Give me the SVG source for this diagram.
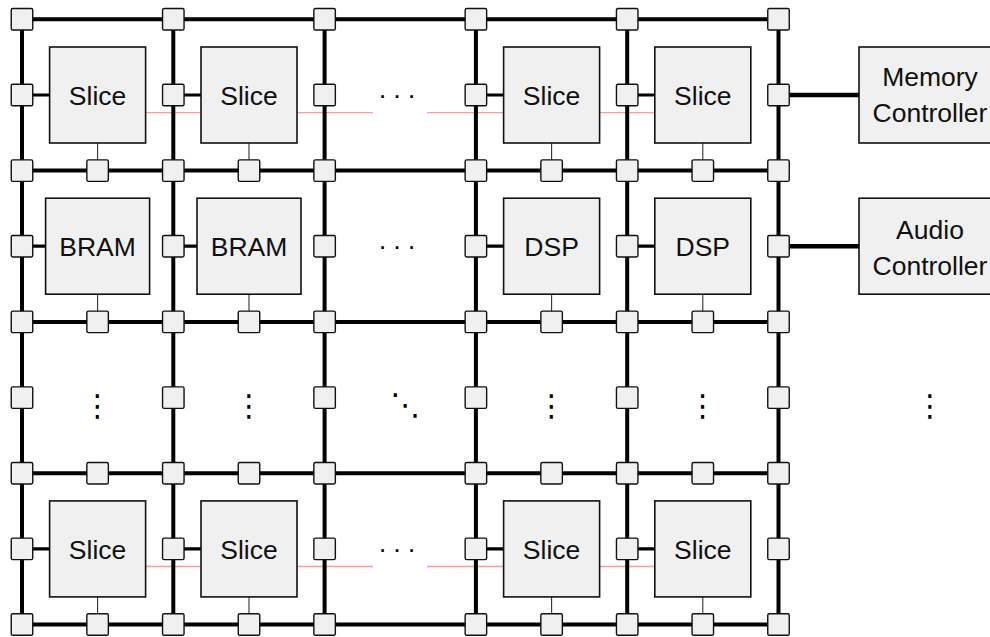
<svg xmlns="http://www.w3.org/2000/svg" xmlns:xlink="http://www.w3.org/1999/xlink" width="990" height="637" viewBox="0 0 990 637">
<style>
.grid{stroke:#000;stroke-width:4;fill:none}
.red{stroke:#ff9a9a;stroke-width:1.3;fill:none}
.lk{stroke:#000;stroke-width:3.2;fill:none}
.ck{stroke:#000;stroke-width:4.5;fill:none}
.th{stroke:#333;stroke-width:1.1;fill:none}
.box{fill:#f0f0f0;stroke:#111;stroke-width:1.6}
.lbl{font-family:"Liberation Sans",Arial,sans-serif;font-size:26.5px;fill:#111;text-anchor:middle}
.dots{font-family:"DejaVu Sans",sans-serif;font-size:30px;fill:#000;text-anchor:middle}
.hdots{font-family:"Liberation Sans",Arial,sans-serif;font-size:26px;fill:#000;text-anchor:middle;letter-spacing:5.8px}
</style>
<defs>
<rect id="sq" x="-10.75" y="-10.75" width="21.5" height="21.5" rx="1.6" fill="#f0f0f0" stroke="#111" stroke-width="1.4"/>
</defs>
<g id="connectors">
<g id="red-links">
<path class="red" d="M145.6 112.7H201M297 112.7H373M427 112.7H503.6M599.6 112.7H654.8"/>
<path class="red" d="M145.6 566.5H201M297 566.5H373M427 566.5H503.6M599.6 566.5H654.8"/>
</g>
<g id="grid">
<path class="grid" d="M22 19.3H778.5M22 170.6H778.5M22 321.9H778.5M22 473.2H778.5M22 624.5H778.5"/>
<path class="grid" d="M22 19.3V624.5M173.3 19.3V624.5M324.6 19.3V624.5M475.9 19.3V624.5M627.2 19.3V624.5M778.5 19.3V624.5"/>
</g>
<g id="block-links">
<path class="lk" d="M22 95H49.6M173.3 95H201M475.9 95H503.6M627.2 95H654.8"/>
<path class="lk" d="M22 246.2H45.6M173.3 246.2H197M475.9 246.2H503.6M627.2 246.2H654.8"/>
<path class="lk" d="M22 548.9H49.6M173.3 548.9H201M475.9 548.9H503.6M627.2 548.9H654.8"/>
<path class="th" d="M97.6 143V170.6M249 143V170.6M551.6 143V170.6M702.8 143V170.6"/>
<path class="th" d="M97.6 294.2V321.9M249 294.2V321.9M551.6 294.2V321.9M702.8 294.2V321.9"/>
<path class="th" d="M97.6 596.9V624.5M249 596.9V624.5M551.6 596.9V624.5M702.8 596.9V624.5"/>
<path class="ck" d="M778.5 95H859M778.5 246.2H859"/>
</g>
</g>
<g id="blocks">
<g id="slice-0-0"><rect class="box" x="49.6" y="47" width="96" height="96"/><text class="lbl" x="97.6" y="105">Slice</text></g>
<g id="slice-0-1"><rect class="box" x="201" y="47" width="96" height="96"/><text class="lbl" x="249" y="105">Slice</text></g>
<g id="slice-0-3"><rect class="box" x="503.6" y="47" width="96" height="96"/><text class="lbl" x="551.6" y="105">Slice</text></g>
<g id="slice-0-4"><rect class="box" x="654.8" y="47" width="96" height="96"/><text class="lbl" x="702.8" y="105">Slice</text></g>
<g id="bram-1-0"><rect class="box" x="45.6" y="198.2" width="104" height="96"/><text class="lbl" x="97.6" y="256.2">BRAM</text></g>
<g id="bram-1-1"><rect class="box" x="197" y="198.2" width="104" height="96"/><text class="lbl" x="249" y="256.2">BRAM</text></g>
<g id="dsp-1-3"><rect class="box" x="503.6" y="198.2" width="96" height="96"/><text class="lbl" x="551.6" y="256.2">DSP</text></g>
<g id="dsp-1-4"><rect class="box" x="654.8" y="198.2" width="96" height="96"/><text class="lbl" x="702.8" y="256.2">DSP</text></g>
<g id="slice-3-0"><rect class="box" x="49.6" y="500.9" width="96" height="96"/><text class="lbl" x="97.6" y="558.9">Slice</text></g>
<g id="slice-3-1"><rect class="box" x="201" y="500.9" width="96" height="96"/><text class="lbl" x="249" y="558.9">Slice</text></g>
<g id="slice-3-3"><rect class="box" x="503.6" y="500.9" width="96" height="96"/><text class="lbl" x="551.6" y="558.9">Slice</text></g>
<g id="slice-3-4"><rect class="box" x="654.8" y="500.9" width="96" height="96"/><text class="lbl" x="702.8" y="558.9">Slice</text></g>
<g id="mem-ctrl"><rect class="box" x="859" y="47" width="142" height="96"/><text class="lbl" x="930" y="86">Memory</text><text class="lbl" x="930" y="121.5">Controller</text></g>
<g id="audio-ctrl"><rect class="box" x="859" y="198.2" width="142" height="96"/><text class="lbl" x="930" y="239">Audio</text><text class="lbl" x="930" y="274.5">Controller</text></g>
</g>
<g id="ellipses">
<text class="hdots" x="400" y="104">···</text>
<text class="hdots" x="400" y="255.2">···</text>
<text class="hdots" x="400" y="557.5">···</text>
<text class="dots" x="97.6" y="416">⋮</text>
<text class="dots" x="249" y="416">⋮</text>
<text class="dots" x="551.6" y="416">⋮</text>
<text class="dots" x="702.8" y="416">⋮</text>
<text class="dots" x="930" y="416">⋮</text>
<text class="dots" x="405.5" y="415">⋱</text>
</g>
<g id="routers">
<use id="r-0-0" href="#sq" x="22" y="19.3"/><use id="r-0-1" href="#sq" x="173.3" y="19.3"/><use id="r-0-2" href="#sq" x="324.6" y="19.3"/><use id="r-0-3" href="#sq" x="475.9" y="19.3"/><use id="r-0-4" href="#sq" x="627.2" y="19.3"/><use id="r-0-5" href="#sq" x="778.5" y="19.3"/>
<use id="r-1-0" href="#sq" x="22" y="170.6"/><use id="r-1-1" href="#sq" x="173.3" y="170.6"/><use id="r-1-2" href="#sq" x="324.6" y="170.6"/><use id="r-1-3" href="#sq" x="475.9" y="170.6"/><use id="r-1-4" href="#sq" x="627.2" y="170.6"/><use id="r-1-5" href="#sq" x="778.5" y="170.6"/>
<use id="r-2-0" href="#sq" x="22" y="321.9"/><use id="r-2-1" href="#sq" x="173.3" y="321.9"/><use id="r-2-2" href="#sq" x="324.6" y="321.9"/><use id="r-2-3" href="#sq" x="475.9" y="321.9"/><use id="r-2-4" href="#sq" x="627.2" y="321.9"/><use id="r-2-5" href="#sq" x="778.5" y="321.9"/>
<use id="r-3-0" href="#sq" x="22" y="473.2"/><use id="r-3-1" href="#sq" x="173.3" y="473.2"/><use id="r-3-2" href="#sq" x="324.6" y="473.2"/><use id="r-3-3" href="#sq" x="475.9" y="473.2"/><use id="r-3-4" href="#sq" x="627.2" y="473.2"/><use id="r-3-5" href="#sq" x="778.5" y="473.2"/>
<use id="r-4-0" href="#sq" x="22" y="624.5"/><use id="r-4-1" href="#sq" x="173.3" y="624.5"/><use id="r-4-2" href="#sq" x="324.6" y="624.5"/><use id="r-4-3" href="#sq" x="475.9" y="624.5"/><use id="r-4-4" href="#sq" x="627.2" y="624.5"/><use id="r-4-5" href="#sq" x="778.5" y="624.5"/>
<use id="h-1-0" href="#sq" x="97.6" y="170.6"/><use id="h-1-1" href="#sq" x="249" y="170.6"/><use id="h-1-3" href="#sq" x="551.6" y="170.6"/><use id="h-1-4" href="#sq" x="702.8" y="170.6"/>
<use id="h-2-0" href="#sq" x="97.6" y="321.9"/><use id="h-2-1" href="#sq" x="249" y="321.9"/><use id="h-2-3" href="#sq" x="551.6" y="321.9"/><use id="h-2-4" href="#sq" x="702.8" y="321.9"/>
<use id="h-3-0" href="#sq" x="97.6" y="473.2"/><use id="h-3-1" href="#sq" x="249" y="473.2"/><use id="h-3-3" href="#sq" x="551.6" y="473.2"/><use id="h-3-4" href="#sq" x="702.8" y="473.2"/>
<use id="h-4-0" href="#sq" x="97.6" y="624.5"/><use id="h-4-1" href="#sq" x="249" y="624.5"/><use id="h-4-3" href="#sq" x="551.6" y="624.5"/><use id="h-4-4" href="#sq" x="702.8" y="624.5"/>
<use id="v-0-0" href="#sq" x="22" y="95"/><use id="v-0-1" href="#sq" x="173.3" y="95"/><use id="v-0-2" href="#sq" x="324.6" y="95"/><use id="v-0-3" href="#sq" x="475.9" y="95"/><use id="v-0-4" href="#sq" x="627.2" y="95"/><use id="v-0-5" href="#sq" x="778.5" y="95"/>
<use id="v-1-0" href="#sq" x="22" y="246.2"/><use id="v-1-1" href="#sq" x="173.3" y="246.2"/><use id="v-1-2" href="#sq" x="324.6" y="246.2"/><use id="v-1-3" href="#sq" x="475.9" y="246.2"/><use id="v-1-4" href="#sq" x="627.2" y="246.2"/><use id="v-1-5" href="#sq" x="778.5" y="246.2"/>
<use id="v-2-0" href="#sq" x="22" y="397.6"/><use id="v-2-1" href="#sq" x="173.3" y="397.6"/><use id="v-2-2" href="#sq" x="324.6" y="397.6"/><use id="v-2-3" href="#sq" x="475.9" y="397.6"/><use id="v-2-4" href="#sq" x="627.2" y="397.6"/><use id="v-2-5" href="#sq" x="778.5" y="397.6"/>
<use id="v-3-0" href="#sq" x="22" y="548.9"/><use id="v-3-1" href="#sq" x="173.3" y="548.9"/><use id="v-3-2" href="#sq" x="324.6" y="548.9"/><use id="v-3-3" href="#sq" x="475.9" y="548.9"/><use id="v-3-4" href="#sq" x="627.2" y="548.9"/><use id="v-3-5" href="#sq" x="778.5" y="548.9"/>
</g>
</svg>
